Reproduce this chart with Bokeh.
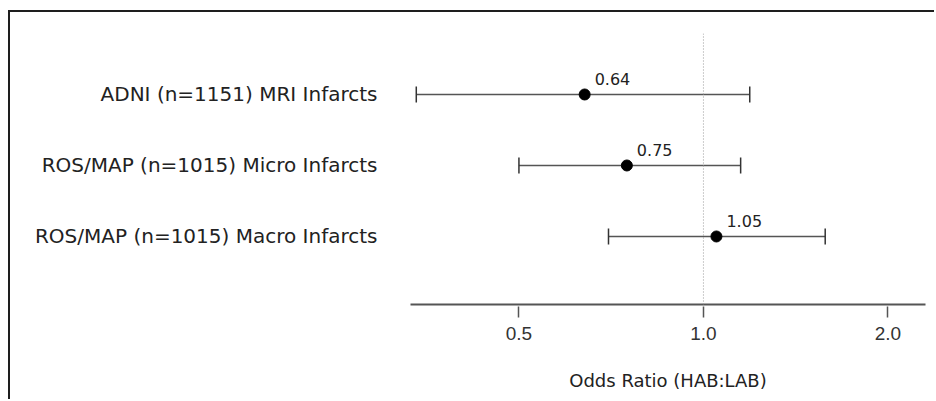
from bokeh.plotting import figure
from bokeh.models import (ColumnDataSource, Whisker, Span, FixedTicker, LogAxis,
                          CustomJSTickFormatter, TeeHead, Range1d, LogScale)
from bokeh.core.properties import value
from bokeh.embed import file_html
from bokeh.resources import INLINE

# ---- data ----
studies = ["ADNI (n=1151) MRI Infarcts",
           "ROS/MAP (n=1015) Micro Infarcts",
           "ROS/MAP (n=1015) Macro Infarcts"]
odds_ratio = [0.64, 0.75, 1.05]
ci_low = [0.34, 0.50, 0.70]
ci_high = [1.19, 1.15, 1.58]
tick_values = [0.5, 1.0, 2.0]
tick_labels = ["0.5", "1.0", "2.0"]
x_title = "Odds Ratio (HAB:LAB)"

n = len(studies)
row = [n - i for i in range(n)]
src = ColumnDataSource(dict(y=row, est=odds_ratio, lo=ci_low, hi=ci_high,
                            lab=[f"{v:.2f}" for v in odds_ratio]))

p = figure(width=926, height=389, x_axis_type=None, y_axis_location="left",
           x_range=Range1d(0.3327, 2.303), y_range=Range1d(0.042, 3.859),
           output_backend="svg", toolbar_location=None,
           min_border_left=400, min_border_right=11, min_border_top=21,
           min_border_bottom=97)
p.x_scale = LogScale()
p.outline_line_color = None
p.grid.visible = False
p.background_fill_color = "white"
p.border_fill_color = "white"
p.styles = {"position": "absolute", "left": "8px", "top": "10px",
            "border-top": "2px solid #1e1e1e", "border-left": "2px solid #1e1e1e"}

# x axis (log)
xa = LogAxis(ticker=FixedTicker(ticks=tick_values),
             formatter=CustomJSTickFormatter(args=dict(vals=tick_values, labs=tick_labels), code="""
                 for (let i = 0; i < vals.length; i++) { if (Math.abs(vals[i]-tick) < 1e-9) return labs[i]; }
                 return '';
             """))
xa.axis_label = x_title
xa.axis_label_text_font = "DejaVu Sans"
xa.axis_label_text_font_size = "18px"
xa.axis_label_text_font_style = "normal"
xa.axis_label_text_color = "#222222"
xa.axis_label_standoff = 27
xa.axis_line_color = "#555555"
xa.axis_line_width = 2
xa.major_tick_line_color = "#555555"
xa.major_tick_line_width = 1.5
xa.major_tick_in = -2
xa.major_tick_out = 13
xa.minor_tick_line_color = None
xa.major_label_text_font = "Liberation Sans"
xa.major_label_text_font_size = "19px"
xa.major_label_text_color = "#333333"
xa.major_label_standoff = 9
p.add_layout(xa, "below")

# y axis labels
ya = p.yaxis[0]
ya.ticker = FixedTicker(ticks=row)
ya.major_label_overrides = {r: s for r, s in zip(row, studies)}
ya.axis_line_color = None
ya.major_tick_line_color = None
ya.minor_tick_line_color = None
ya.major_label_standoff = 27
ya.major_label_text_font = "DejaVu Sans"
ya.major_label_text_font_size = "20px"
ya.major_label_text_color = "#222222"

# reference line
p.add_layout(Span(location=1.0, dimension="height", line_color="#999999",
                  line_width=1, line_dash="1 2"))

# CI whiskers
w = Whisker(source=src, base="y", lower="lo", upper="hi", dimension="width",
            line_color="#555555", line_width=1.6,
            lower_head=TeeHead(size=16, line_color="#333333", line_width=1.5),
            upper_head=TeeHead(size=16, line_color="#333333", line_width=1.5))
p.add_layout(w)

p.scatter(x="est", y="y", source=src, size=11, color="black")
p.text(x="est", y="y", text="lab", source=src, x_offset=10, y_offset=-9,
       text_font=value("DejaVu Sans"), text_font_size="16px", text_color="#222222",
       text_baseline="bottom", text_align="left")

open("out.html", "w").write(file_html(p, INLINE))
